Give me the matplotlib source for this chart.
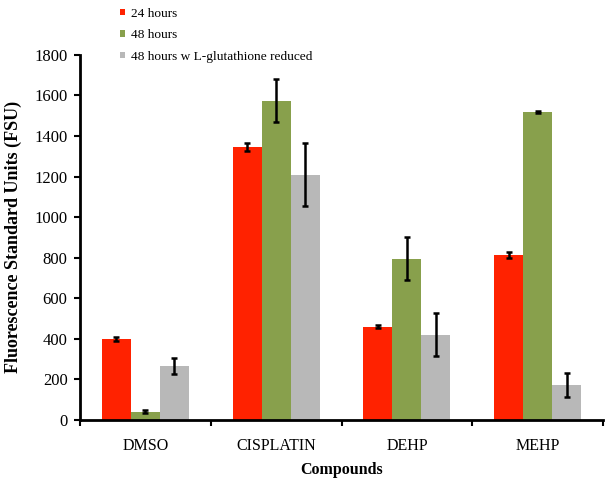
import matplotlib
matplotlib.use("Agg")
import matplotlib.pyplot as plt
import numpy as np

categories = ["DMSO", "CISPLATIN", "DEHP", "MEHP"]
series_names = ["24 hours", "48 hours", "48 hours w L-glutathione reduced"]
vals_24 = [400, 1348, 460, 815]
err_24 = [10, 20, 6, 15]
vals_48 = [40, 1575, 795, 1518]
err_48 = [8, 105, 105, 5]
vals_gsh = [265, 1210, 420, 172]
err_gsh = [38, 155, 105, 60]
colors = ["#FF2200", "#88A04C", "#B8B8B8"]

plt.rcParams['font.family'] = ['Liberation Serif', 'DejaVu Serif']
fig = plt.figure(figsize=(6.11, 4.86), dpi=100)
ax = fig.add_axes([0.131, 0.136, 0.856, 0.751])

x = np.arange(len(categories))
w = 0.222
handles = []
for i, (v, e, c, n) in enumerate(zip([vals_24, vals_48, vals_gsh], [err_24, err_48, err_gsh], colors, series_names)):
    b = ax.bar(x + (i - 1) * w, v, w, color=c, label=n, zorder=2)
    ax.errorbar(x + (i - 1) * w, v, yerr=e, fmt='none', ecolor='black', elinewidth=1.8, capsize=2.5, capthick=1.8, zorder=3)
    handles.append(b)

ax.set_xlim(-0.5, 3.5)
ax.set_ylim(0, 1800)
ax.set_yticks(range(0, 1801, 200))
ax.set_xticks(x)
ax.set_xticklabels(categories, fontsize=11.5)
ax.set_xticks(np.arange(-0.5, 3.6, 1), minor=True)
ax.tick_params(axis='x', which='major', length=0, pad=13)
ax.tick_params(axis='x', which='minor', length=4, width=1.5, direction='out')
ax.tick_params(axis='y', length=4, width=1.5, direction='out', labelsize=12, pad=5)
for s in ['top', 'right']:
    ax.spines[s].set_visible(False)
for s in ['left', 'bottom']:
    ax.spines[s].set_linewidth(2)
ax.set_ylabel("Fluorescence Standard Units (FSU)", fontsize=13, fontweight='bold', labelpad=9)
ax.set_xlabel("Compounds", fontsize=11.5, fontweight='bold', labelpad=6)

fig.legend(handles=handles, labels=series_names, loc='upper left', bbox_to_anchor=(0.196, 0.984),
           frameon=False, fontsize=9.6, handlelength=0.38, handleheight=0.38, labelspacing=0.72,
           handletextpad=0.45, borderpad=0, borderaxespad=0)

fig.savefig("out.png", dpi=100)
